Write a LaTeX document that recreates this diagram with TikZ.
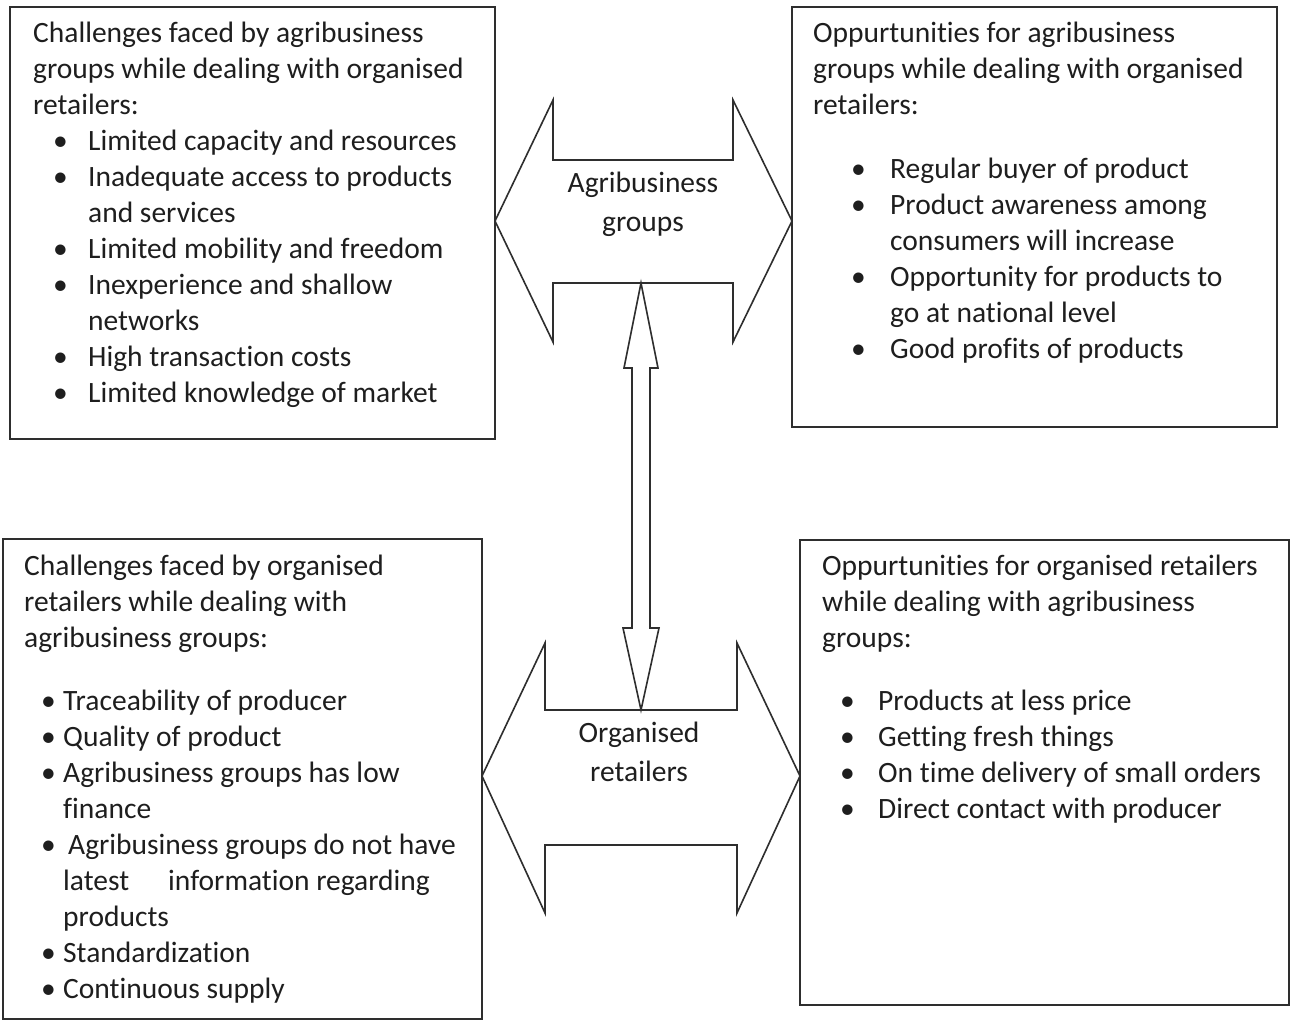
\documentclass[tikz,border=0pt]{standalone}
\usepackage{fontspec}
\setmainfont{Carlito}[RawFeature={-liga;-clig;-dlig}]
\definecolor{ink}{HTML}{1E1E1E}
\definecolor{edge}{HTML}{2E2E2E}
\newcommand\bul[2]{\makebox[#2][l]{\hspace*{#1}\textbullet}}
\newcommand\ind[1]{\hspace*{#1}}
\begin{document}
\begin{tikzpicture}[x=1pt,y=-1pt,
  panel/.style={draw=edge,line width=1.6pt,rectangle,inner sep=0pt},
  blocktext/.style={anchor=base west,inner sep=0pt,text=ink,font=\fontsize{29.5}{36}\selectfont},
  lab/.style={anchor=base,inner sep=0pt,text=ink,font=\fontsize{29.5}{39}\selectfont},
  bigarrow/.style={draw=edge,line width=1.6pt,fill=white,line join=miter}]
\useasboundingbox (0,0) rectangle (1291,1021);
\fill[white] (0,0) rectangle (1291,1021);

% panels
\node[panel,minimum width=485pt,minimum height=432pt] (tl) at (252.5,223) {};
\node[panel,minimum width=485pt,minimum height=420pt] (tr) at (1034.5,217) {};
\node[panel,minimum width=479pt,minimum height=480pt] (bl) at (242.5,779) {};
\node[panel,minimum width=489pt,minimum height=465pt] (br) at (1044.5,772.5) {};

% panel texts
\node[blocktext] (tltext) at (33,42) {\begin{tabular}[t]{@{}l@{}}
Challenges faced by agribusiness\\
groups while dealing with organised\\
retailers:\\
\bul{20pt}{55pt}Limited capacity and resources\\
\bul{20pt}{55pt}Inadequate access to products\\
\ind{55pt}and services\\
\bul{20pt}{55pt}Limited mobility and freedom\\
\bul{20pt}{55pt}Inexperience and shallow\\
\ind{55pt}networks\\
\bul{20pt}{55pt}High transaction costs\\
\bul{20pt}{55pt}Limited knowledge of market
\end{tabular}};

\node[blocktext] (trtext) at (813,42) {\begin{tabular}[t]{@{}l@{}}
Oppurtunities for agribusiness\\
groups while dealing with organised\\
retailers:\\[28pt]
\bul{38pt}{77pt}Regular buyer of product\\
\bul{38pt}{77pt}Product awareness among\\
\ind{77pt}consumers will increase\\
\bul{38pt}{77pt}Opportunity for products to\\
\ind{77pt}go at national level\\
\bul{38pt}{77pt}Good profits of products
\end{tabular}};

\node[blocktext] (bltext) at (24,575) {\begin{tabular}[t]{@{}l@{}}
Challenges faced by organised\\
retailers while dealing with\\
agribusiness groups:\\[27pt]
\bul{17pt}{39pt}Traceability of producer\\
\bul{17pt}{39pt}Quality of product\\
\bul{17pt}{39pt}Agribusiness groups has low\\
\ind{39pt}finance\\
\bul{17pt}{44pt}Agribusiness groups do not have\\
\ind{39pt}\makebox[105pt][l]{latest}information regarding\\
\ind{39pt}products\\
\bul{17pt}{39pt}Standardization\\
\bul{17pt}{39pt}Continuous supply
\end{tabular}};

\node[blocktext] (brtext) at (822,575) {\begin{tabular}[t]{@{}l@{}}
Oppurtunities for organised retailers\\
while dealing with agribusiness\\
groups:\\[27pt]
\bul{18pt}{56pt}Products at less price\\
\bul{18pt}{56pt}Getting fresh things\\
\bul{18pt}{56pt}On time delivery of small orders\\
\bul{18pt}{56pt}Direct contact with producer
\end{tabular}};

% top double arrow
\draw[bigarrow] (495,221) -- (553,100) -- (553,160) -- (733,160) -- (733,100)
  -- (792,221) -- (733,342) -- (733,283) -- (553,283) -- (553,342) -- cycle;
% bottom double arrow
\draw[bigarrow] (482,776) -- (545,643) -- (545,710) -- (737,710) -- (737,643)
  -- (800,776) -- (737,913) -- (737,845) -- (545,845) -- (545,913) -- cycle;

\node[lab] (ag) at (643,192) {\begin{tabular}[t]{@{}c@{}}Agribusiness\\groups\end{tabular}};
\node[lab] (or) at (639,742) {\begin{tabular}[t]{@{}c@{}}Organised\\retailers\end{tabular}};

% vertical double arrow between the two
\coordinate (vtop) at (641,283);
\coordinate (vbot) at (641,710);
\draw[bigarrow] (vtop) -- (658,368) -- (650,368) -- (650,628) -- (659,628)
  -- (vbot) -- (623,628) -- (632,628) -- (632,368) -- (624,368) -- cycle;
\end{tikzpicture}
\end{document}
